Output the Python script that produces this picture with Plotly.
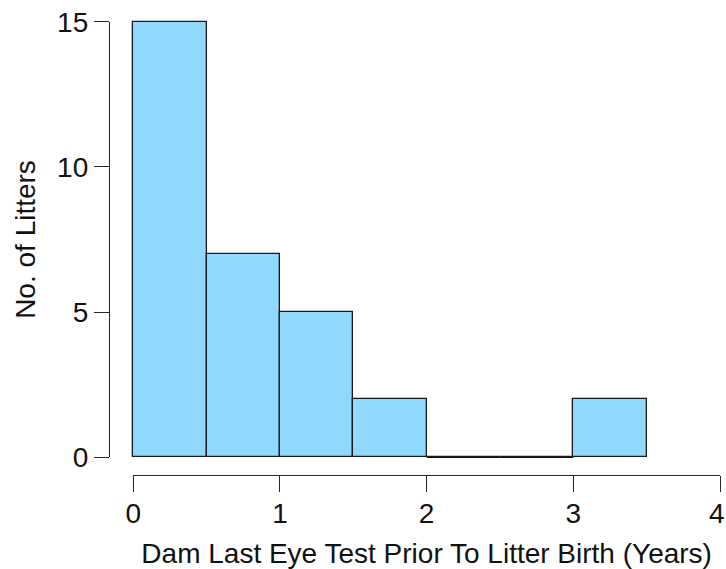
import plotly.graph_objects as go

# Histogram of the time between the dam's last eye test and the litter's birth
bin_edges = [0.0, 0.5, 1.0, 1.5, 2.0, 2.5, 3.0, 3.5]
litter_counts = [15, 7, 5, 2, 0, 0, 2]
x_ticks = [0, 1, 2, 3, 4]
x_tick_labels = ["0", "1", "2", "3", "4"]
y_ticks = [0, 5, 10, 15]
x_title = "Dam Last Eye Test Prior To Litter Birth (Years)"
y_title = "No. of Litters"

FILL = "#8FD8FE"
EDGE = "#1a1a1a"
AXIS = "#262626"
FONT = dict(family="Liberation Sans, Arial, Helvetica, sans-serif", size=28, color="#111111")

W, H = 726, 569
ML, MR, MT, MB = 100, 0, 10, 94
plot_w = W - ML - MR
plot_h = H - MT - MB

# pixel frame of the base-R style detached axes
x_min, x_max = 0, 4
y_min, y_max = 0, 15
px_x0, px_x1 = 133.3, 720.0     # x = 0 and x = 4
px_y0, px_y1 = 457.3, 21.7      # y = 0 and y = 15
px_xaxis_line = 475.0
px_yaxis_line = 109.0
px_xlabel_mid = 513.0

ppu_x = (px_x1 - px_x0) / (x_max - x_min)
ppu_y = (px_y0 - px_y1) / (y_max - y_min)

# data axes span the whole plot area so no bar outline is clipped
data_xrange = [x_min - (px_x0 - ML) / ppu_x, x_max + (W - MR - px_x1) / ppu_x]
data_yrange = [y_min - (MT + plot_h - px_y0) / ppu_y, y_max + (px_y1 - MT) / ppu_y]

centers = [(a + b) / 2 for a, b in zip(bin_edges[:-1], bin_edges[1:])]
widths = [b - a for a, b in zip(bin_edges[:-1], bin_edges[1:])]

fig = go.Figure()
fig.add_trace(go.Bar(
    x=centers, y=litter_counts, width=widths,
    marker=dict(color=FILL, line=dict(color=EDGE, width=1.3)),
    xaxis="x", yaxis="y", hoverinfo="x+y", showlegend=False,
))

# empty bins are drawn as flat outlines along zero
for a, b, c in zip(bin_edges[:-1], bin_edges[1:], litter_counts):
    if c == 0:
        fig.add_trace(go.Scatter(
            x=[a, b], y=[0, 0], mode="lines",
            line=dict(color=EDGE, width=1.3),
            xaxis="x", yaxis="y", hoverinfo="skip", showlegend=False,
        ))

# placeholder so the detached axes are rendered
fig.add_trace(go.Scatter(x=[None], y=[None], xaxis="x2", yaxis="y2",
                         showlegend=False, hoverinfo="skip"))

# the last x label sits at the page edge, so it is placed as an annotation
# nudged slightly inward; the others are ordinary tick labels
fig.add_annotation(
    x=x_ticks[-1], xref="x2", y=(MT + plot_h - px_xlabel_mid) / plot_h, yref="paper",
    text=x_tick_labels[-1], showarrow=False, xanchor="center", yanchor="middle",
    xshift=-3, font=FONT,
)

fig.update_layout(
    width=W, height=H,
    margin=dict(l=ML, r=MR, t=MT, b=MB, autoexpand=False),
    paper_bgcolor="white", plot_bgcolor="rgba(0,0,0,0)",
    font=FONT,
    bargap=0,
    xaxis=dict(domain=[0, 1], range=data_xrange, visible=False, fixedrange=True),
    yaxis=dict(domain=[0, 1], range=data_yrange, visible=False, fixedrange=True),
    xaxis2=dict(
        domain=[(px_x0 - ML) / plot_w, (px_x1 - ML) / plot_w],
        range=[x_min, x_max], anchor="free",
        position=(MT + plot_h - px_xaxis_line) / plot_h,
        tickvals=x_ticks, ticktext=x_tick_labels[:-1] + [""],
        ticks="outside", ticklen=16, tickwidth=1.3, tickcolor=AXIS,
        showline=True, linecolor=AXIS, linewidth=1.3, showgrid=False, zeroline=False,
        tickfont=FONT, automargin=False, fixedrange=True,
        ticklabeloverflow="allow", ticklabelstandoff=-3,
        title=dict(text=x_title, font=FONT, standoff=16),
    ),
    yaxis2=dict(
        domain=[(MT + plot_h - px_y0) / plot_h, (MT + plot_h - px_y1) / plot_h],
        range=[y_min, y_max], anchor="free",
        position=(px_yaxis_line - ML) / plot_w,
        tickvals=y_ticks, ticks="outside", ticklen=15, tickwidth=1.3, tickcolor=AXIS,
        showline=True, linecolor=AXIS, linewidth=1.3, showgrid=False, zeroline=False,
        tickfont=FONT, automargin=False, fixedrange=True,
        title=dict(text=y_title, font=FONT, standoff=12),
    ),
)

fig.write_html("out.html")
